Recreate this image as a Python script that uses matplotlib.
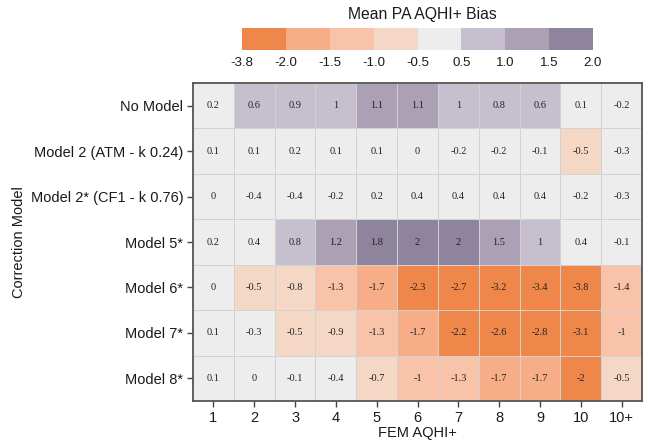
import numpy as np
import matplotlib
matplotlib.use("Agg")
import matplotlib.pyplot as plt
from matplotlib.colors import ListedColormap, BoundaryNorm
from matplotlib.cm import ScalarMappable

models = ["No Model", "Model 2 (ATM - k 0.24)", "Model 2* (CF1 - k 0.76)",
          "Model 5*", "Model 6*", "Model 7*", "Model 8*"]
fem_levels = ["1", "2", "3", "4", "5", "6", "7", "8", "9", "10", "10+"]

no_model = [0.2, 0.6, 0.9, 1, 1.1, 1.1, 1, 0.8, 0.6, 0.1, -0.2]
model_2 = [0.1, 0.1, 0.2, 0.1, 0.1, 0, -0.2, -0.2, -0.1, -0.5, -0.3]
model_2s = [0, -0.4, -0.4, -0.2, 0.2, 0.4, 0.4, 0.4, 0.4, -0.2, -0.3]
model_5s = [0.2, 0.4, 0.8, 1.2, 1.8, 2, 2, 1.5, 1, 0.4, -0.1]
model_6s = [0, -0.5, -0.8, -1.3, -1.7, -2.3, -2.7, -3.2, -3.4, -3.8, -1.4]
model_7s = [0.1, -0.3, -0.5, -0.9, -1.3, -1.7, -2.2, -2.6, -2.8, -3.1, -1]
model_8s = [0.1, 0, -0.1, -0.4, -0.7, -1, -1.3, -1.7, -1.7, -2, -0.5]

bounds = [-3.8, -2.0, -1.5, -1.0, -0.5, 0.5, 1.0, 1.5, 2.0]
colors = ["#F0874A", "#F7AE88", "#F8C3A9", "#F5D7C6",
          "#EDEDED", "#C6C0CE", "#ABA0B4", "#8F849D"]

data = np.array([no_model, model_2, model_2s, model_5s, model_6s, model_7s, model_8s])
# right-closed bins
idx = np.clip(np.digitize(data, bounds[1:-1], right=True), 0, len(colors) - 1)

cmap = ListedColormap(colors)

W, H = 648, 440
fig = plt.figure(figsize=(W / 100, H / 100), dpi=100)
ax = fig.add_axes([193 / W, 1 - 401 / H, 449 / W, 318 / H])

nr, nc = data.shape
ax.pcolormesh(np.arange(nc + 1), np.arange(nr + 1), idx, cmap=cmap,
              vmin=-0.5, vmax=len(colors) - 0.5,
              edgecolors="#D2D2D2", linewidth=0.6)
ax.set_xlim(0, nc)
ax.set_ylim(nr, 0)

for i in range(nr):
    for j in range(nc):
        v = data[i, j]
        s = f"{v:g}"
        ax.text(j + 0.5, i + 0.5, s, ha="center", va="center",
                fontsize=7.5, family="Liberation Serif", color="#222222")

ax.set_xticks(np.arange(nc) + 0.5)
ax.set_xticklabels(fem_levels)
ax.set_yticks(np.arange(nr) + 0.5)
ax.set_yticklabels(models)
ax.tick_params(axis="both", direction="out", length=4, width=1, color="#444444",
               labelsize=10.5, labelcolor="#1a1a1a", pad=3)
for lab in ax.get_xticklabels() + ax.get_yticklabels():
    lab.set_family("Liberation Sans")
for sp in ax.spines.values():
    sp.set_color("#555555")
    sp.set_linewidth(1.3)

ax.set_xlabel("FEM AQHI+", fontsize=10.5, family="Liberation Sans", labelpad=1, color="#1a1a1a")
ax.set_ylabel("Correction Model", fontsize=10.5, family="Liberation Sans", labelpad=3, color="#1a1a1a")

cax = fig.add_axes([242 / W, 1 - 50 / H, 351 / W, 22 / H])
norm = BoundaryNorm(bounds, len(colors))
sm = ScalarMappable(norm=norm, cmap=cmap)
cb = fig.colorbar(sm, cax=cax, orientation="horizontal", spacing="uniform", ticks=bounds)
cb.outline.set_visible(False)
cb.ax.set_xticklabels([f"{b:.1f}" for b in bounds])
cb.ax.tick_params(length=0, labelsize=9.5, pad=5, labelcolor="#1a1a1a")
for lab in cb.ax.get_xticklabels():
    lab.set_family("Liberation Sans")
fig.text(422 / W, 1 - 15 / H, "Mean PA AQHI+ Bias", ha="center", va="center",
         fontsize=11.3, family="Liberation Sans", color="#1a1a1a")

fig.savefig("out.png", dpi=100, facecolor="white")
